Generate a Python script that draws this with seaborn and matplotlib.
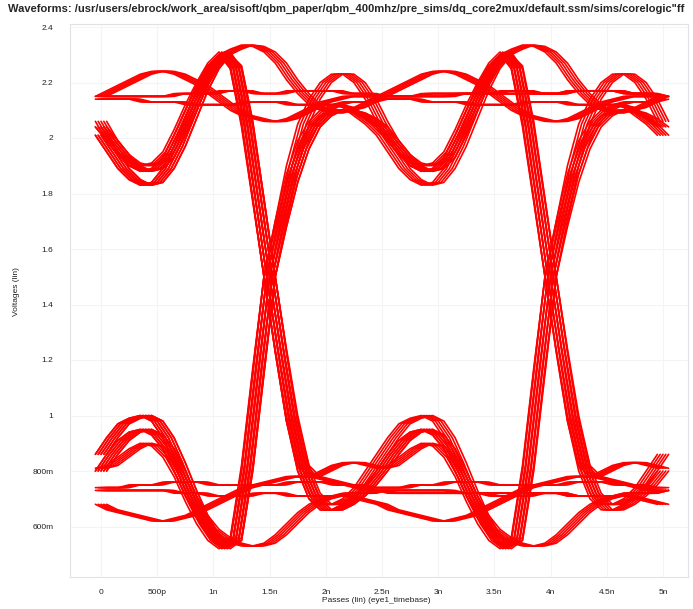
import numpy as np
import pandas as pd
import matplotlib
matplotlib.use("Agg")
import matplotlib.pyplot as plt
import seaborn as sns

# ---------------- data ----------------
# time samples of one bit interval (ns after a crossing), 0.1 ns step
tau_ns = [round(0.1 * k, 1) for k in range(26)]

# high-level bit shapes (V), crossing to crossing
H_A  = [1.50,1.68,1.84,1.96,2.04,2.08,2.10,2.10,2.09,2.07,2.04,1.99,1.94,1.90,1.88,1.89,1.93,2.01,2.10,2.19,2.26,2.30,2.25,2.05,1.78,1.50]
H_A2 = [1.50,1.70,1.87,1.99,2.06,2.10,2.12,2.11,2.08,2.05,2.01,1.95,1.89,1.85,1.83,1.84,1.89,1.97,2.07,2.17,2.25,2.30,2.26,2.06,1.78,1.50]
H_A3 = [1.50,1.70,1.90,2.05,2.14,2.20,2.23,2.23,2.20,2.14,2.06,1.99,1.94,1.91,1.90,1.91,1.95,2.03,2.12,2.20,2.27,2.31,2.25,2.04,1.77,1.50]
H_B  = [1.50,1.68,1.84,1.96,2.04,2.08,2.10,2.10,2.09,2.07,2.04,1.99,1.94,1.90,1.88,1.89,1.93,2.01,2.10,2.19,2.26,2.30,2.32,2.335,2.33,2.31]
H_C  = [2.31,2.27,2.21,2.16,2.12,2.10,2.09,2.10,2.11,2.13,2.15,2.17,2.19,2.21,2.23,2.24,2.24,2.23,2.21,2.19,2.16,2.13,2.10,2.08,2.07,2.06]
H_D  = [2.06,2.06,2.07,2.09,2.11,2.13,2.14,2.15,2.15,2.15,2.15,2.15,2.15,2.15,2.16,2.16,2.16,2.16,2.16,2.16,2.16,2.16,2.16,2.16,2.16,2.16]
H_F1 = [2.16,2.16,2.17,2.17,2.17,2.17,2.17,2.16,2.16,2.16,2.15,2.15,2.15,2.15,2.15,2.15,2.15,2.16,2.16,2.16,2.16,2.17,2.17,2.17,2.16,2.16]
H_F2 = [2.13,2.13,2.12,2.12,2.12,2.12,2.12,2.13,2.13,2.13,2.14,2.14,2.14,2.14,2.13,2.13,2.13,2.13,2.12,2.12,2.12,2.12,2.12,2.13,2.13,2.13]

# low-level bit shapes (V)
L_A  = [1.50,1.23,0.98,0.80,0.70,0.66,0.66,0.68,0.71,0.75,0.80,0.86,0.91,0.94,0.95,0.93,0.88,0.80,0.71,0.63,0.57,0.53,0.56,0.82,1.17,1.50]
L_A2 = [1.50,1.24,1.00,0.82,0.72,0.68,0.68,0.70,0.74,0.80,0.86,0.92,0.97,0.99,1.00,0.98,0.92,0.83,0.73,0.64,0.57,0.53,0.55,0.80,1.15,1.50]
L_A3 = [1.50,1.23,0.98,0.82,0.78,0.80,0.82,0.83,0.83,0.82,0.81,0.82,0.85,0.88,0.90,0.89,0.85,0.78,0.69,0.61,0.55,0.52,0.55,0.81,1.16,1.50]
L_B  = [1.50,1.23,0.98,0.80,0.70,0.66,0.66,0.68,0.71,0.75,0.80,0.86,0.91,0.94,0.95,0.93,0.88,0.80,0.71,0.64,0.59,0.56,0.54,0.53,0.53,0.54]
L_C  = [0.54,0.57,0.61,0.65,0.68,0.70,0.71,0.71,0.70,0.69,0.68,0.66,0.65,0.64,0.63,0.62,0.62,0.63,0.64,0.66,0.68,0.70,0.72,0.74,0.75,0.76]
L_D  = [0.76,0.77,0.78,0.78,0.78,0.77,0.76,0.75,0.74,0.73,0.73,0.72,0.72,0.72,0.72,0.72,0.72,0.72,0.72,0.72,0.72,0.72,0.72,0.72,0.72,0.72]
L_F1 = [0.72,0.72,0.71,0.71,0.71,0.71,0.71,0.72,0.72,0.72,0.73,0.73,0.73,0.73,0.73,0.73,0.73,0.72,0.72,0.72,0.71,0.71,0.71,0.71,0.72,0.72]
L_F2 = [0.75,0.75,0.76,0.76,0.76,0.76,0.75,0.75,0.75,0.74,0.74,0.74,0.74,0.75,0.75,0.75,0.76,0.76,0.76,0.76,0.75,0.75,0.75,0.75,0.75,0.75]

segments = {"H_A": H_A, "H_A2": H_A2, "H_A3": H_A3, "H_B": H_B, "H_C": H_C,
            "H_D": H_D, "H_F1": H_F1, "H_F2": H_F2, "L_A": L_A, "L_A2": L_A2,
            "L_A3": L_A3, "L_B": L_B, "L_C": L_C, "L_D": L_D, "L_F1": L_F1, "L_F2": L_F2}

# each displayed trace: shapes of the three bits seen in the 0..5 ns window
trace_bits = [
    ("H_A", "L_A", "H_A"), ("H_A2", "L_B", "L_C"), ("H_B", "H_C", "H_D"),
    ("L_A", "H_A", "L_A"), ("L_A2", "H_B", "H_C"), ("L_B", "L_C", "L_D"),
    ("H_C", "H_D", "H_F1"), ("L_C", "L_D", "L_F1"), ("H_F1", "H_F1", "H_F1"),
    ("H_F2", "H_F2", "H_F2"), ("L_F1", "L_F1", "L_F1"), ("L_F2", "L_F2", "L_F2"),
    ("H_A3", "L_A3", "H_A3"), ("L_A3", "H_A3", "L_A3"), ("H_A2", "L_A2", "H_A2"),
    ("L_A2", "H_A2", "L_A2"),
]
# jitter of the overlaid passes inside one bundle (ns)
bundle_skew_ns = [-0.05, -0.025, 0.0, 0.025, 0.05]

first_crossing_ns = -1.0
bit_period_ns = 2.5

y_ticks = [2.4, 2.2, 2.0, 1.8, 1.6, 1.4, 1.2, 1.0, 0.8, 0.6]
y_tick_labels = ["2.4", "2.2", "2", "1.8", "1.6", "1.4", "1.2", "1", "800m", "600m"]
x_ticks = [0, 0.5, 1, 1.5, 2, 2.5, 3, 3.5, 4, 4.5, 5]
x_tick_labels = ["0", "500p", "1n", "1.5n", "2n", "2.5n", "3n", "3.5n", "4n", "4.5n", "5n"]

title = ('Waveforms: /usr/users/ebrock/work_area/sisoft/qbm_paper/qbm_400mhz/'
         'pre_sims/dq_core2mux/default.ssm/sims/corelogic"ff')

# ---------------- build long table ----------------
rows = []
tid = 0
for bits in trace_bits:
    t_vals, v_vals = [], []
    for b, name in enumerate(bits):
        start = first_crossing_ns + b * bit_period_ns
        for tau, v in zip(tau_ns, segments[name]):
            t = round(start + tau, 3)
            if t < -1e-9 or t > 5.0 + 1e-9:
                continue
            if t_vals and abs(t - t_vals[-1]) < 1e-9:
                continue
            t_vals.append(t)
            v_vals.append(v)
    for s in bundle_skew_ns:
        for t, v in zip(t_vals, v_vals):
            rows.append({"t": t + s, "v": v, "trace": tid})
        tid += 1
df = pd.DataFrame(rows)

# ---------------- draw ----------------
sns.set_style("white")
plt.rcParams["font.family"] = ["Liberation Sans", "DejaVu Sans"]

W, H = 693, 609
fig = plt.figure(figsize=(W / 100, H / 100), dpi=100)
left, right, top, bottom = 70, 688, 24, 577
ax = fig.add_axes([left / W, 1 - bottom / H, (right - left) / W, (bottom - top) / H])

t0_px, px_per_ns = 101, 112.4
v_top_px, px_per_v = 27, 277.5
ax.set_xlim((left - t0_px) / px_per_ns, (right - t0_px) / px_per_ns)
ax.set_ylim(2.4 - (bottom - v_top_px) / px_per_v, 2.4 + (v_top_px - top) / px_per_v)

sns.lineplot(data=df, x="t", y="v", units="trace", estimator=None, sort=False,
             color="#ff0000", linewidth=1.2, ax=ax, legend=False)

ax.set_yticks(y_ticks)
ax.set_yticklabels(y_tick_labels)
ax.set_xticks(x_ticks)
ax.set_xticklabels(x_tick_labels)
ax.tick_params(axis="both", length=0, labelsize=6, labelcolor="#222222")
ax.tick_params(axis="y", pad=12)
ax.tick_params(axis="x", pad=9)
ax.grid(True, color="#f4f4f4", linewidth=0.8)
ax.set_axisbelow(True)
for sp in ax.spines.values():
    sp.set_color("#e2e2e2")
    sp.set_linewidth(0.8)
ax.set_xlabel("")
ax.set_ylabel("")

fig.text(8 / W, 1 - 9 / H, title, fontsize=8, fontweight="bold", ha="left", va="center")
fig.text(17 / W, 1 - 292 / H, "Voltages (lin)", rotation=90, fontsize=6,
         ha="center", va="center", color="#222222")
fig.text(376 / W, 1 - 601 / H, "Passes (lin) (eye1_timebase)", fontsize=6,
         ha="center", va="center", color="#222222")

fig.savefig("out.png", dpi=100)
